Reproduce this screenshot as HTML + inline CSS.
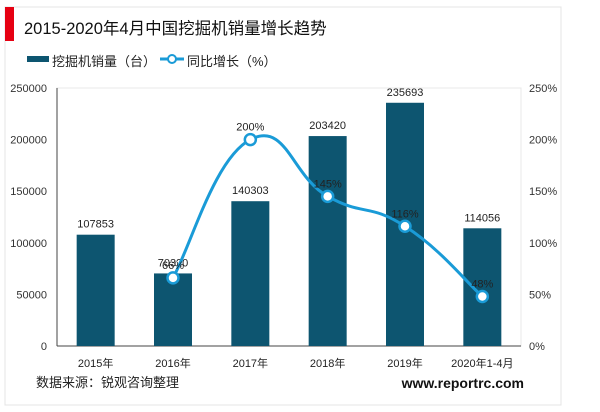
<!DOCTYPE html>
<html><head><meta charset="utf-8"><style>
body{margin:0;background:#fff;width:600px;height:412px;overflow:hidden;font-family:"Liberation Sans","Noto Sans CJK SC",sans-serif}
</style></head><body>
<svg width="600" height="412" style="position:absolute;left:0;top:0">
<rect x="5" y="7" width="556" height="398" fill="none" stroke="#e4e4e4"/>
<rect x="5" y="7" width="9" height="34" fill="#e60012"/>
<text x="24" y="34" font-size="16.5" fill="#111">2015-2020年4月中国挖掘机销量增长趋势</text>
<g>
<rect x="27" y="56" width="22" height="6" fill="#0d5570"/>
<text x="52" y="66" font-size="13" fill="#222">挖掘机销量（台）</text>
<line x1="160" y1="59" x2="184" y2="59" stroke="#1a9bd7" stroke-width="3"/>
<circle cx="172" cy="59" r="4" fill="#fff" stroke="#1a9bd7" stroke-width="2"/>
<text x="187" y="66" font-size="13" fill="#222">同比增长（%）</text>
</g>
<rect x="57" y="88" width="464" height="258" fill="none" stroke="#e8e8e8"/>
<g id="plot"></g>
<text x="36" y="387" font-size="13" fill="#222">数据来源：锐观咨询整理</text>
<text x="524" y="388" font-size="14" font-weight="bold" fill="#111" text-anchor="end">www.reportrc.com</text>
</svg>
<script>
const categories=["2015年","2016年","2017年","2018年","2019年","2020年1-4月"];
const sales=[107853,70320,140303,203420,235693,114056];
const growthCats=[1,2,3,4,5];
const growth=[66,200,145,116,48];
const leftTicks=[0,50000,100000,150000,200000,250000];
const rightTicks=[0,50,100,150,200,250];
const ns="http://www.w3.org/2000/svg";
const g=document.getElementById('plot');
const X0=57,X1=521,Y0=346,Y1=88;
const step=(X1-X0)/categories.length;
const xc=i=>X0+step*(i+0.5);
const yL=v=>Y0-(v/250000)*(Y0-Y1);
const yR=v=>Y0-(v/250)*(Y0-Y1);
function el(t,a,txt){const e=document.createElementNS(ns,t);for(const k in a)e.setAttribute(k,a[k]);if(txt!=null)e.textContent=txt;g.appendChild(e);return e;}
leftTicks.forEach(v=>{const t=el('text',{x:X0-10,y:yL(v)+4,'font-size':11,fill:'#333','text-anchor':'end'},v);

});
rightTicks.forEach(v=>{const t=el('text',{x:X1+8,y:yR(v)+4,'font-size':11,fill:'#333'},v+'%');

});
el('line',{x1:X0,y1:Y1,x2:X0,y2:Y0,stroke:'#444'});
const ax=el('line',{x1:X0,y1:Y0,x2:X1,y2:Y0,stroke:'#444'});


const bw=38;
categories.forEach((c,i)=>{
const r=el('rect',{x:xc(i)-bw/2,y:yL(sales[i]),width:bw,height:Y0-yL(sales[i]),fill:'#0d5570'});


const l=el('text',{x:xc(i),y:yL(sales[i])-7,'font-size':11,fill:'#222','text-anchor':'middle'},sales[i]);


const t=el('text',{x:xc(i),y:Y0+21,'font-size':11,fill:'#222','text-anchor':'middle'},c);


});
const pts=growth.map((v,k)=>[xc(growthCats[k]),yR(v)]);
let d='M'+pts[0][0]+','+pts[0][1];
for(let i=0;i<pts.length-1;i++){const p0=pts[Math.max(0,i-1)],p1=pts[i],p2=pts[i+1],p3=pts[Math.min(pts.length-1,i+2)];
const t=0.35;
d+=' C'+(p1[0]+(p2[0]-p0[0])*t/1.5)+','+(p1[1]+(p2[1]-p0[1])*t/1.5)+' '+(p2[0]-(p3[0]-p1[0])*t/1.5)+','+(p2[1]-(p3[1]-p1[1])*t/1.5)+' '+p2[0]+','+p2[1];}
const line=el('path',{d:d,fill:'none',stroke:'#1a9bd7','stroke-width':3});


pts.forEach((p,k)=>{
const c=el('circle',{cx:p[0],cy:p[1],r:5.5,fill:'#fff',stroke:'#1a9bd7','stroke-width':2.5});


const l=el('text',{x:p[0],y:p[1]-9,'font-size':11,fill:'#222','text-anchor':'middle'},growth[k]+'%');


});
</script>
</body></html>
